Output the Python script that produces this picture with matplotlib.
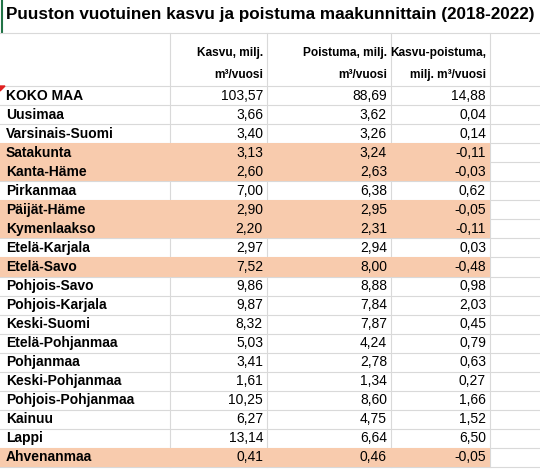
import matplotlib
matplotlib.use("Agg")
import matplotlib.pyplot as plt
from matplotlib.patches import Rectangle

title = "Puuston vuotuinen kasvu ja poistuma maakunnittain (2018-2022)"
headers = [("Kasvu, milj.", "m³/vuosi"), ("Poistuma, milj.", "m³/vuosi"), ("Kasvu-poistuma,", "milj. m³/vuosi")]
regions = ["KOKO MAA", "Uusimaa", "Varsinais-Suomi", "Satakunta", "Kanta-Häme", "Pirkanmaa",
           "Päijät-Häme", "Kymenlaakso", "Etelä-Karjala", "Etelä-Savo", "Pohjois-Savo",
           "Pohjois-Karjala", "Keski-Suomi", "Etelä-Pohjanmaa", "Pohjanmaa", "Keski-Pohjanmaa",
           "Pohjois-Pohjanmaa", "Kainuu", "Lappi", "Ahvenanmaa"]
kasvu = [103.57, 3.66, 3.40, 3.13, 2.60, 7.00, 2.90, 2.20, 2.97, 7.52, 9.86, 9.87, 8.32, 5.03, 3.41, 1.61, 10.25, 6.27, 13.14, 0.41]
poistuma = [88.69, 3.62, 3.26, 3.24, 2.63, 6.38, 2.95, 2.31, 2.94, 8.00, 8.88, 7.84, 7.87, 4.24, 2.78, 1.34, 8.60, 4.75, 6.64, 0.46]
erotus = [14.88, 0.04, 0.14, -0.11, -0.03, 0.62, -0.05, -0.11, 0.03, -0.48, 0.98, 2.03, 0.45, 0.79, 0.63, 0.27, 1.66, 1.52, 6.50, -0.05]

W, H = 540, 471
fig = plt.figure(figsize=(W/100, H/100), dpi=100)
ax = fig.add_axes([0, 0, 1, 1])
ax.set_xlim(0, W); ax.set_ylim(H, 0); ax.axis("off")
plt.rcParams['font.family'] = ['Liberation Sans', 'DejaVu Sans']

colx = [0, 170, 267, 391, 490]
grid = "#D9D9D9"
fs = 10
hfs = 8.6
row0, rh = 86, 19.05
hl = "#F8CBAD"

ax.text(6, 15, title, fontsize=12.3, fontweight="bold", va="center", ha="left")
ax.plot([2, 2], [0, 32], color="#217346", lw=1.5)
ax.plot([0, 540], [32.5, 32.5], color=grid, lw=0.8)
for i, (a, b) in enumerate(headers):
    xr = colx[i + 2] - 4
    ax.text(xr, 53, a, fontsize=hfs, fontweight="bold", ha="right", va="center")
    ax.text(xr, 75, b, fontsize=hfs, fontweight="bold", ha="right", va="center")

def fmt(v):
    return f"{v:.2f}".replace(".", ",")

for i, r in enumerate(regions):
    y0 = row0 + i * rh
    if erotus[i] < 0:
        ax.add_patch(Rectangle((0, y0), colx[-1], rh, color=hl, lw=0))
    yc = y0 + rh / 2
    ax.text(6, yc, r, fontsize=fs, fontweight="bold", va="center")
    for j, v in enumerate([kasvu[i], poistuma[i], erotus[i]]):
        ax.text(colx[j + 2] - 4, yc, fmt(v), fontsize=fs, va="center", ha="right")

nrows = len(regions)
for i in range(nrows + 1):
    y = row0 + i * rh
    ax.plot([0, 540], [y, y], color=grid, lw=0.8, zorder=0.5)
for x in colx[1:]:
    ax.plot([x, x], [32.5, row0 + nrows * rh], color=grid, lw=0.8, zorder=0.5)
ax.add_patch(plt.Polygon([[0, 86], [5, 86], [0, 91]], color="#E02020"))

fig.savefig("out.png", dpi=100)
